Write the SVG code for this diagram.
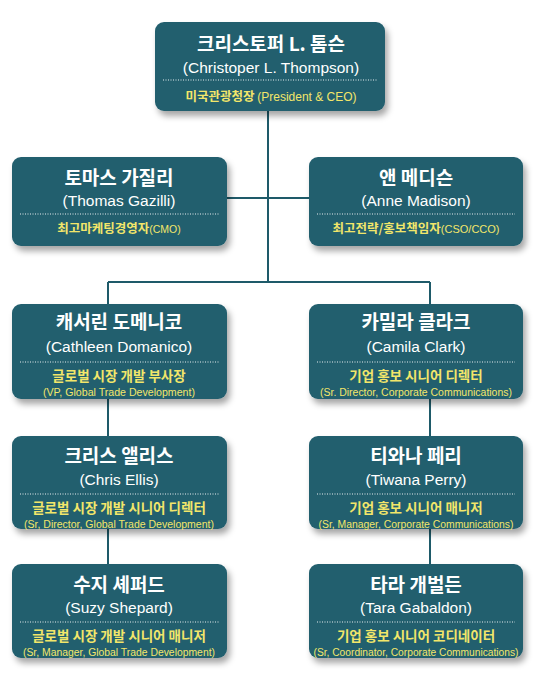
<svg xmlns="http://www.w3.org/2000/svg" width="542" height="685" viewBox="0 0 542 685">
<defs>
<filter id="sh" x="-10%" y="-10%" width="125%" height="135%">
<feDropShadow dx="3" dy="5" stdDeviation="3" flood-color="#000" flood-opacity="0.35"/>
</filter>
<style>
.box{fill:#235f6e;filter:url(#sh)}
.t{font-family:"Liberation Sans","Noto Sans CJK KR",sans-serif;text-anchor:middle}
.title{font-family:"Noto Sans CJK KR","Liberation Sans",sans-serif;font-weight:bold;font-size:19px;fill:#fff}
.name{font-size:15.5px;fill:#fff}
.role{font-family:"Noto Sans CJK KR","Liberation Sans",sans-serif;font-weight:bold;font-size:13.5px;fill:#f2e66a}
.role2{font-size:12.5px}
.en{font-family:"Liberation Sans",sans-serif;font-weight:normal;font-size:10.5px;fill:#f2e66a}
.small{font-size:10px;fill:#f2e66a}
.dot{stroke:#e8eef0;stroke-width:1;stroke-dasharray:1 1.5}
.c{stroke:#1e5a69;stroke-width:2;fill:none}
</style>
</defs>
<rect width="542" height="685" fill="#fff"/>
<g id="connectors">
<path class="c" d="M268 110 V282 M227 198 H309 M108 282 H430 M108 282 V304 M430 282 V304 M108 399 V436 M430 399 V436 M108 529 V564 M430 529 V564"/>
</g>
<g id="thompson">
<rect class="box" x="155" y="22" width="230" height="89" rx="9"/>
<text class="t title" x="271" y="51">크리스토퍼 L. 톰슨</text>
<text class="t name" x="271" y="73">(Christoper L. Thompson)</text>
<line class="dot" x1="163" y1="80" x2="377" y2="80"/>
<text class="t role role2" x="271" y="101">미국관광청장 <tspan class="en" style="font-size:12px">(President &amp; CEO)</tspan></text>
</g>
<g id="gazilli">
<rect class="box" x="12" y="157" width="215" height="89" rx="9"/>
<text class="t title" x="119" y="185">토마스 가질리</text>
<text class="t name" x="119" y="206">(Thomas Gazilli)</text>
<line class="dot" x1="20" y1="214" x2="219" y2="214"/>
<text class="t role role2" x="119" y="233">최고마케팅경영자<tspan class="en">(CMO)</tspan></text>
</g>
<g id="madison">
<rect class="box" x="309" y="157" width="214" height="89" rx="9"/>
<text class="t title" x="416" y="185">앤 메디슨</text>
<text class="t name" x="416" y="206">(Anne Madison)</text>
<line class="dot" x1="317" y1="214" x2="515" y2="214"/>
<text class="t role role2" x="416" y="233">최고전략/홍보책임자<tspan class="en" style="font-size:11px">(CSO/CCO)</tspan></text>
</g>
<g id="domanico">
<rect class="box" x="12" y="304" width="215" height="95" rx="9"/>
<text class="t title" x="119" y="329">캐서린 도메니코</text>
<text class="t name" x="119" y="352">(Cathleen Domanico)</text>
<line class="dot" x1="20" y1="362" x2="219" y2="362"/>
<text class="t role" x="119" y="381">글로벌 시장 개발 부사장</text>
<text class="t small" x="119" y="396" textLength="152" lengthAdjust="spacingAndGlyphs">(VP, Global Trade Development)</text>
</g>
<g id="clark">
<rect class="box" x="309" y="304" width="214" height="95" rx="9"/>
<text class="t title" x="416" y="329">카밀라 클라크</text>
<text class="t name" x="416" y="352">(Camila Clark)</text>
<line class="dot" x1="317" y1="362" x2="515" y2="362"/>
<text class="t role" x="416" y="381">기업 홍보 시니어 디렉터</text>
<text class="t small" x="416" y="396" textLength="192" lengthAdjust="spacingAndGlyphs">(Sr. Director, Corporate Communications)</text>
</g>
<g id="ellis">
<rect class="box" x="12" y="436" width="215" height="93" rx="9"/>
<text class="t title" x="119" y="463">크리스 앨리스</text>
<text class="t name" x="119" y="485">(Chris Ellis)</text>
<line class="dot" x1="20" y1="494" x2="219" y2="494"/>
<text class="t role" x="119" y="513">글로벌 시장 개발 시니어 디렉터</text>
<text class="t small" x="119" y="528" textLength="190" lengthAdjust="spacingAndGlyphs">(Sr, Director, Global Trade Development)</text>
</g>
<g id="perry">
<rect class="box" x="309" y="436" width="214" height="93" rx="9"/>
<text class="t title" x="416" y="463">티와나 페리</text>
<text class="t name" x="416" y="485">(Tiwana Perry)</text>
<line class="dot" x1="317" y1="494" x2="515" y2="494"/>
<text class="t role" x="416" y="513">기업 홍보 시니어 매니저</text>
<text class="t small" x="416" y="528" textLength="195" lengthAdjust="spacingAndGlyphs">(Sr, Manager, Corporate Communications)</text>
</g>
<g id="shepard">
<rect class="box" x="12" y="564" width="215" height="94" rx="9"/>
<text class="t title" x="119" y="592">수지 셰퍼드</text>
<text class="t name" x="119" y="613">(Suzy Shepard)</text>
<line class="dot" x1="20" y1="622" x2="219" y2="622"/>
<text class="t role" x="119" y="641">글로벌 시장 개발 시니어 매니저</text>
<text class="t small" x="119" y="656" textLength="192" lengthAdjust="spacingAndGlyphs">(Sr, Manager, Global Trade Development)</text>
</g>
<g id="gabaldon">
<rect class="box" x="309" y="564" width="214" height="94" rx="9"/>
<text class="t title" x="416" y="592">타라 개벌든</text>
<text class="t name" x="416" y="613">(Tara Gabaldon)</text>
<line class="dot" x1="317" y1="622" x2="515" y2="622"/>
<text class="t role" x="416" y="641">기업 홍보 시니어 코디네이터</text>
<text class="t small" x="416" y="656" textLength="205" lengthAdjust="spacingAndGlyphs">(Sr, Coordinator, Corporate Communications)</text>
</g>
</svg>
